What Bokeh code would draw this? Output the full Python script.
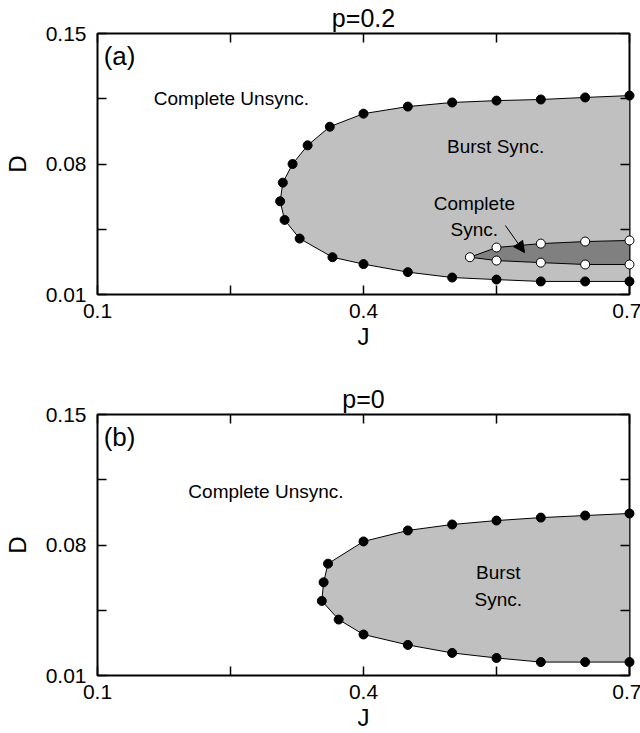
from bokeh.plotting import figure
from bokeh.models import (ColumnDataSource, FixedTicker, LinearAxis, Range1d,
                          Arrow, NormalHead, Label, Title, CustomJSTickFormatter)
from bokeh.layouts import column
from bokeh.embed import file_html
from bokeh.resources import INLINE
from bokeh.core.properties import value

FONT = "Liberation Sans"

# ---------------- data ----------------
x_ticks = [0.1, 0.4, 0.7]
x_minor = [0.25, 0.55]
y_ticks = [0.01, 0.08, 0.15]
y_minor = [0.045, 0.115]

# panel (a): p = 0.2, boundary of burst-sync region (top branch -> bottom branch)
a_bound_J = [0.70, 0.65, 0.60, 0.55, 0.50, 0.45, 0.40, 0.362, 0.337, 0.320, 0.309,
             0.306, 0.311, 0.328, 0.365, 0.40, 0.45, 0.50, 0.55, 0.60, 0.65, 0.70]
a_bound_D = [0.1167, 0.1157, 0.1146, 0.1140, 0.1130, 0.1108, 0.1070, 0.100, 0.090,
             0.080, 0.070, 0.060, 0.050, 0.040, 0.030, 0.0263, 0.0220, 0.0191,
             0.0180, 0.0170, 0.0170, 0.0170]
# panel (a): complete-sync region
a_sync_J = [0.70, 0.65, 0.60, 0.55, 0.52, 0.55, 0.60, 0.65, 0.70]
a_sync_D = [0.0390, 0.0384, 0.0373, 0.0352, 0.0300, 0.0282, 0.0271, 0.0261, 0.0261]

# panel (b): p = 0, boundary of burst-sync region
b_bound_J = [0.70, 0.65, 0.60, 0.55, 0.50, 0.45, 0.40, 0.360, 0.355, 0.353, 0.372,
             0.40, 0.45, 0.50, 0.55, 0.60, 0.65, 0.70]
b_bound_D = [0.0969, 0.0958, 0.0947, 0.0931, 0.0910, 0.0878, 0.0819, 0.070, 0.060,
             0.050, 0.040, 0.0320, 0.0264, 0.0221, 0.0194, 0.0172, 0.0172, 0.0172]

# annotations
a_text = ["Complete Unsync.", "Burst Sync.", "Complete\nSync."]
a_text_J = [0.251, 0.549, 0.525]
a_text_D = [0.1150, 0.0894, 0.0520]
b_text = ["Complete Unsync.", "Burst\nSync."]
b_text_J = [0.290, 0.552]
b_text_D = [0.1087, 0.0580]
a_arrow_start = (0.560, 0.0470)
a_arrow_end = (0.5816, 0.0325)


def make_panel(title, tag, top, bottom):
    p = figure(frame_width=532, frame_height=261,
               x_range=Range1d(0.1, 0.7), y_range=Range1d(0.01, 0.15),
               output_backend="svg", toolbar_location=None,
               min_border_left=96, min_border_right=12,
               min_border_top=top, min_border_bottom=bottom,
               background_fill_color="white", border_fill_color="white")
    p.grid.visible = False
    p.outline_line_color = "black"
    p.outline_line_width = 2

    t = Title(text=title, align="center", text_font=FONT, text_font_size="25px",
              text_font_style="normal", text_color="black", standoff=3, offset=0)
    p.title = t

    for ax, tk, mn in ((p.xaxis[0], x_ticks, x_minor), (p.yaxis[0], y_ticks, y_minor)):
        ax.ticker = FixedTicker(ticks=tk, minor_ticks=mn)
        ax.axis_line_color = None
        ax.major_tick_in = 9
        ax.major_tick_out = 0
        ax.minor_tick_in = 9
        ax.minor_tick_out = 0
        ax.major_tick_line_width = 1.5
        ax.minor_tick_line_width = 1.5
        ax.major_label_text_font = FONT
        ax.major_label_text_font_size = "21px"
        ax.major_label_text_color = "black"
        ax.axis_label_text_font = FONT
        ax.axis_label_text_font_size = "24px"
        ax.axis_label_text_font_style = "normal"
        ax.axis_label_text_color = "black"
    p.xaxis.axis_label = "J"
    p.yaxis.axis_label = "D"
    p.xaxis.major_label_standoff = 9
    p.xaxis.axis_label_standoff = 2
    p.yaxis.major_label_standoff = 11
    p.yaxis.axis_label_standoff = 12

    for loc, tk, mn in (("above", x_ticks, x_minor), ("right", y_ticks, y_minor)):
        ax = LinearAxis(ticker=FixedTicker(ticks=tk, minor_ticks=mn),
                        formatter=CustomJSTickFormatter(code="return ''"),
                        axis_line_color=None, major_tick_in=9, major_tick_out=0,
                        minor_tick_in=9, minor_tick_out=0,
                        major_tick_line_width=1.5, minor_tick_line_width=1.5,
                        major_label_text_font_size="0px", major_label_standoff=0)
        p.add_layout(ax, loc)

    p.add_layout(Label(x=0.107, y=0.1462, text=tag, text_font=FONT,
                       text_font_size="26px", text_align="left",
                       text_baseline="top", text_color="black"))
    return p


def draw_region(p, J, D, fill, open_markers=False):
    src = ColumnDataSource(dict(J=J, D=D))
    p.patch("J", "D", source=src, fill_color=fill, line_color=None)
    if open_markers:
        p.patch("J", "D", source=src, fill_color=None, line_color="black", line_width=1)
    else:
        p.line("J", "D", source=src, line_color="black", line_width=1)
    r = p.scatter("J", "D", source=src, size=9,
                  fill_color="white" if open_markers else "black",
                  line_color="black", line_width=1)
    r.level = "overlay"


def draw_text(p, txt, J, D):
    src = ColumnDataSource(dict(J=J, D=D, t=txt))
    p.text("J", "D", text="t", source=src, text_font=value(FONT),
           text_font_size="19px", text_align="center", text_baseline="middle",
           text_color="black", text_line_height=1.25)


pa = make_panel("p=0.2", "(a)", 32, 59)
draw_region(pa, a_bound_J, a_bound_D, "#c0c0c0")
draw_region(pa, a_sync_J, a_sync_D, "#808080", open_markers=True)
draw_text(pa, a_text, a_text_J, a_text_D)
pa.add_layout(Arrow(end=NormalHead(size=11, fill_color="black", line_color="black"),
                    x_start=a_arrow_start[0], y_start=a_arrow_start[1],
                    x_end=a_arrow_end[0], y_end=a_arrow_end[1],
                    line_color="black", line_width=1))

pb = make_panel("p=0", "(b)", 61, 59)
draw_region(pb, b_bound_J, b_bound_D, "#c0c0c0")
draw_text(pb, b_text, b_text_J, b_text_D)

layout = column(pa, pb, spacing=0)
open("out.html", "w").write(file_html(layout, INLINE))
